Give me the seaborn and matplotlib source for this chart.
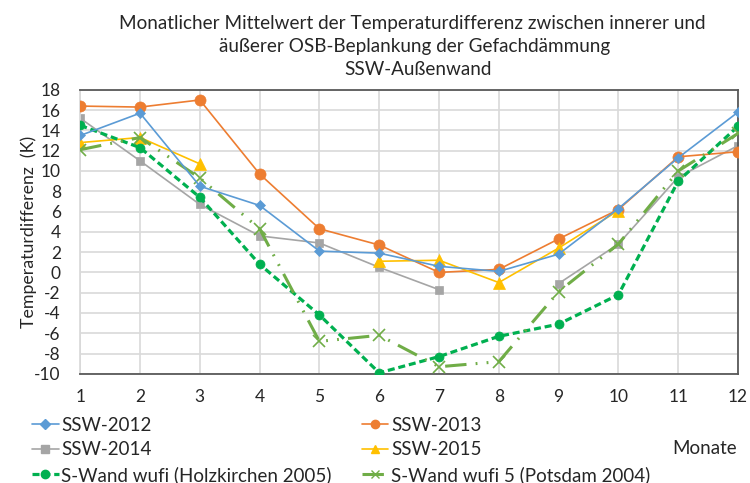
import numpy as np
import pandas as pd
import matplotlib
matplotlib.use("Agg")
import matplotlib.pyplot as plt
from matplotlib.lines import Line2D
import seaborn as sns

# Monate 1..12, Werte in K
monate = list(range(1, 13))
ssw_2012 = [13.5, 15.7, 8.5, 6.6, 2.1, 1.9, 0.6, 0.1, 1.8, 6.3, 11.3, 15.8]
ssw_2013 = [16.4, 16.3, 17.0, 9.7, 4.3, 2.7, 0.0, 0.3, 3.3, 6.2, 11.4, 11.9]
ssw_2014 = [15.2, 11.0, 6.7, 3.6, 2.9, 0.5, -1.7, np.nan, -1.1, 2.8, 9.4, 12.5]
ssw_2015 = [12.8, 13.3, 10.7, np.nan, np.nan, 1.1, 1.2, -1.0, 2.4, 6.1, np.nan, np.nan]
holzkirchen = [14.5, 12.3, 7.4, 0.8, -4.2, -9.9, -8.3, -6.3, -5.1, -2.2, 9.0, 14.4]
potsdam = [12.1, 13.3, 9.3, 4.3, -6.8, -6.2, -9.3, -8.8, -1.9, 2.8, 10.0, 13.7]

sns.set_theme(style="white")
plt.rcParams["font.family"] = ["Lato", "DejaVu Sans"]
plt.rcParams["axes.unicode_minus"] = False

fig = plt.figure(figsize=(7.5, 4.83), dpi=100)
ax = fig.add_axes([0.107, 0.226, 0.877, 0.588])


def draw(werte, **kw):
    # Lücken (NaN) nicht verbinden -> je zusammenhängendem Stück eine Linie
    df = pd.DataFrame({"monat": monate, "wert": werte})
    df["stueck"] = df["wert"].isna().cumsum()
    df = df.dropna()
    sns.lineplot(data=df, x="monat", y="wert", units="stueck", estimator=None,
                 legend=False, ax=ax, **kw)


styles = [
    ("SSW-2012", ssw_2012, dict(color="#5B9BD5", marker="D", markersize=5, lw=1.2)),
    ("SSW-2014", ssw_2014, dict(color="#A5A5A5", marker="s", markersize=5.5, lw=1.2)),
    ("S-Wand wufi (Holzkirchen 2005)", holzkirchen,
     dict(color="#00B050", marker="o", markersize=6.5, lw=2.3, linestyle=(0, (2.2, 1.2)))),
    ("SSW-2013", ssw_2013, dict(color="#ED7D31", marker="o", markersize=8, lw=1.2)),
    ("SSW-2015", ssw_2015, dict(color="#FFC000", marker="^", markersize=8, lw=1.2)),
    ("S-Wand wufi 5 (Potsdam 2004)", potsdam,
     dict(color="#70AD47", marker="x", markersize=9, mew=1.2, lw=2.2,
          linestyle=(0, (7, 3, 0.6, 3, 0.6, 3)))),
]

zorder = {"SSW-2012": 6, "SSW-2013": 3, "SSW-2014": 2, "SSW-2015": 4,
          "S-Wand wufi (Holzkirchen 2005)": 5, "S-Wand wufi 5 (Potsdam 2004)": 5}
for name, werte, kw in styles:
    kw = dict(kw)
    draw(werte, zorder=zorder[name], markeredgewidth=kw.pop("mew", 0.5),
         markeredgecolor=kw["color"], **kw)

ax.set_xlim(1, 12)
ax.set_ylim(-10, 18)
ax.set_xticks(monate)
ax.set_yticks(range(-10, 19, 2))
ax.grid(True, color="#D9D9D9", lw=1.2)
ax.tick_params(axis="y", labelsize=12.5, length=0, pad=14)
ax.tick_params(axis="x", labelsize=12.5, length=0, pad=11)
ax.set_xlabel("")
ax.set_ylabel("Temperaturdifferenz  (K)", fontsize=12.8, labelpad=-2)
for side in ["top", "right", "bottom"]:
    ax.spines[side].set_color("#595959")
    ax.spines[side].set_linewidth(1.3)
ax.spines["left"].set_color("#D9D9D9")
ax.set_axisbelow(True)

fig.text(0.55, 0.952, "Monatlicher Mittelwert der Temperaturdifferenz zwischen innerer und",
         ha="center", va="center", fontsize=13.6)
fig.text(0.553, 0.903, "äußerer OSB-Beplankung der Gefachdämmung",
         ha="center", va="center", fontsize=13.6)
fig.text(0.557, 0.857, "SSW-Außenwand", ha="center", va="center", fontsize=13.6)

handles = []
for name, werte, kw in styles:
    h = Line2D([], [], color=kw["color"], marker=kw["marker"],
               markersize=min(kw["markersize"], 6), lw=kw["lw"],
               linestyle=kw.get("linestyle", "-"), label=name)
    handles.append(h)
fig.legend(handles=handles, ncol=2, loc="upper left", bbox_to_anchor=(0.043, 0.137),
           frameon=False, fontsize=13.5, handlelength=1.4, handletextpad=0.15,
           columnspacing=1.6, labelspacing=0.4, borderaxespad=0, borderpad=0)
fig.text(0.983, 0.072, "Monate", ha="right", va="center", fontsize=13.5)

fig.savefig("out.png", dpi=100)
